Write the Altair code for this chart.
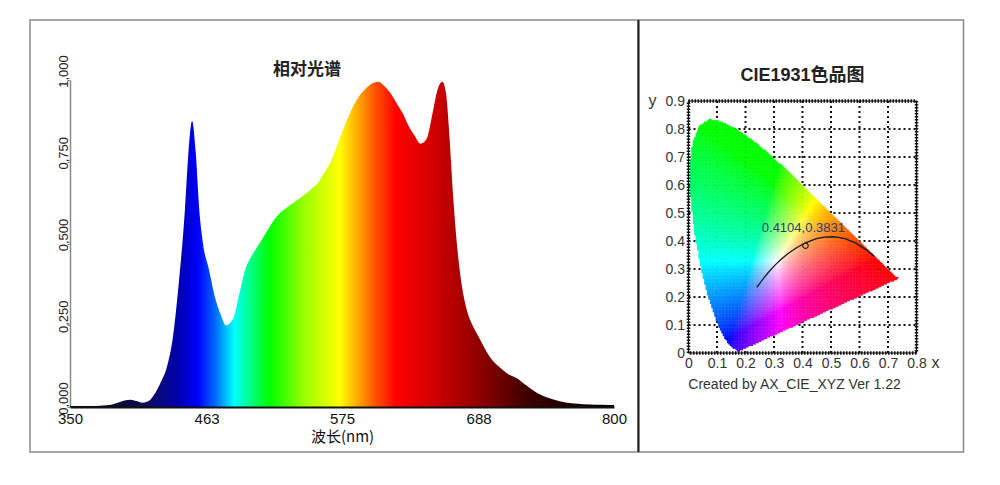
import altair as alt
import numpy as np
import pandas as pd

# ---------------- data: relative spectrum ----------------
wavelength = [350, 360, 370, 380, 385, 390, 395, 400, 405, 410, 415, 420, 425, 430, 435,
              440, 445, 448, 451, 454, 457, 460, 465, 470, 475, 479, 485, 490, 495, 500,
              505, 510, 515, 520, 525, 530, 535, 540, 545, 550, 555, 560, 565, 570, 575,
              580, 585, 590, 595, 600, 605, 610, 615, 620, 625, 630, 635, 640, 645, 650,
              654, 658, 661, 664, 667, 670, 673, 678, 683, 688, 693, 698, 705, 712, 720,
              727, 735, 742, 750, 760, 770, 780, 790, 800]
intensity = [0.003, 0.003, 0.003, 0.005, 0.008, 0.014, 0.020, 0.022, 0.018, 0.013, 0.018, 0.040, 0.075, 0.120, 0.210,
             0.380, 0.600, 0.780, 0.875, 0.780, 0.600, 0.500, 0.420, 0.335, 0.280, 0.250, 0.270, 0.345, 0.420, 0.460,
             0.490, 0.520, 0.550, 0.578, 0.598, 0.612, 0.625, 0.638, 0.652, 0.668, 0.685, 0.715, 0.745, 0.790, 0.840,
             0.885, 0.925, 0.955, 0.975, 0.990, 0.995, 0.982, 0.960, 0.930, 0.900, 0.860, 0.830, 0.805, 0.820, 0.900,
             0.970, 0.995, 0.960, 0.820, 0.640, 0.500, 0.400, 0.300, 0.250, 0.215, 0.180, 0.150, 0.123, 0.102, 0.087,
             0.067, 0.046, 0.033, 0.023, 0.014, 0.010, 0.008, 0.007, 0.006]
spec_x_ticks = [350, 463, 575, 688, 800]
spec_y_ticks = [0.0, 0.25, 0.5, 0.75, 1.0]
spec_title = "相对光谱"
spec_x_title = "波长(nm)"

# ---------------- data: CIE 1931 ----------------
locus_x = [0.1741, 0.1740, 0.1738, 0.1736, 0.1733, 0.1730, 0.1726, 0.1721, 0.1714, 0.1703,
           0.1689, 0.1669, 0.1644, 0.1611, 0.1566, 0.1510, 0.1440, 0.1355, 0.1241, 0.1096,
           0.0913, 0.0687, 0.0454, 0.0235, 0.0082, 0.0039, 0.0139, 0.0389, 0.0743, 0.1142,
           0.1547, 0.1929, 0.2296, 0.2658, 0.3016, 0.3373, 0.3731, 0.4087, 0.4441, 0.4788,
           0.5125, 0.5448, 0.5752, 0.6029, 0.6270, 0.6482, 0.6658, 0.6801, 0.6915, 0.7006,
           0.7079, 0.7140, 0.7190, 0.7230, 0.7260, 0.7283, 0.7300, 0.7311, 0.7320, 0.7334,
           0.7344, 0.7347]
locus_y = [0.0050, 0.0050, 0.0049, 0.0049, 0.0048, 0.0048, 0.0048, 0.0048, 0.0051, 0.0058,
           0.0069, 0.0086, 0.0109, 0.0138, 0.0177, 0.0227, 0.0297, 0.0399, 0.0578, 0.0868,
           0.1327, 0.2007, 0.2950, 0.4127, 0.5384, 0.6548, 0.7502, 0.8120, 0.8338, 0.8262,
           0.8059, 0.7816, 0.7543, 0.7243, 0.6923, 0.6589, 0.6245, 0.5896, 0.5547, 0.5202,
           0.4866, 0.4544, 0.4242, 0.3965, 0.3725, 0.3514, 0.3340, 0.3197, 0.3083, 0.2993,
           0.2920, 0.2859, 0.2809, 0.2770, 0.2740, 0.2717, 0.2700, 0.2689, 0.2680, 0.2666,
           0.2656, 0.2653]
planck_x = [0.2399, 0.2501, 0.2565, 0.2637, 0.2807, 0.2952, 0.3064, 0.3221, 0.3451, 0.3608,
            0.3805, 0.4053, 0.4369, 0.4527, 0.4770, 0.5056, 0.5267, 0.5494, 0.5857, 0.6251, 0.6528]
planck_y = [0.2348, 0.2489, 0.2577, 0.2674, 0.2884, 0.3048, 0.3166, 0.3318, 0.3516, 0.3636,
            0.3768, 0.3907, 0.4041, 0.4096, 0.4137, 0.4152, 0.4133, 0.4081, 0.3931, 0.3674, 0.3444]
point_x = [0.4104]
point_y = [0.3831]
point_label = "0.4104,0.3831"
cie_x_ticks = [0, 0.1, 0.2, 0.3, 0.4, 0.5, 0.6, 0.7, 0.8]
cie_y_ticks = [0, 0.1, 0.2, 0.3, 0.4, 0.5, 0.6, 0.7, 0.8, 0.9]
cie_title = "CIE1931色品图"
credit = "Created by AX_CIE_XYZ Ver 1.22"

FONT = "Liberation Sans, Arial, Noto Sans CJK SC"
CJK = "Noto Sans CJK SC, Liberation Sans"

# ---------------- left panel ----------------
stop_wl = [350, 385, 415, 440, 456, 470, 486, 497, 515, 545, 573, 588, 603, 620, 650, 690, 730, 770, 800]
stop_col = ["#000000", "#0a0a28", "#0c0c60", "#0000b0", "#0000ff", "#0068ff", "#00ffff", "#00ff99",
            "#00ff00", "#a0ff00", "#ffff00", "#ffaa00", "#ff5000", "#ff0000", "#d20000", "#8c0000",
            "#3c0000", "#120000", "#000000"]
grad = alt.LinearGradient(
    gradient="linear",
    stops=[alt.GradientStop(color=c, offset=(w - 350) / 450.0) for w, c in zip(stop_wl, stop_col)],
    x1=0, x2=1, y1=0, y2=0,
)

spec_df = pd.DataFrame({"wl": wavelength, "v": intensity})
xs = alt.Scale(domain=[350, 800], nice=False, zero=False)
ys = alt.Scale(domain=[0, 1], nice=False)
ax_lx = alt.Axis(
    values=spec_x_ticks, title=spec_x_title, labelFlush=False, grid=False, ticks=False,
    domainColor="#111", domainWidth=2, labelFont=FONT, labelFontSize=15, labelColor="#111",
    labelPadding=4, titleFont=CJK, titleFontSize=15, titleFontWeight="normal",
    titleColor="#111", titlePadding=3, zindex=1)
ax_ly = alt.Axis(
    values=spec_y_ticks, labelExpr="replace(format(datum.value, '.3f'), '.', ',')",
    labelAngle=270, labelAlign="center", labelBaseline="alphabetic", labelOffset=-9,
    labelPadding=0, labelFlush=False, tickSize=3, tickColor="#888", domainColor="#888",
    domainWidth=1.5, grid=False, title=None, labelFont=FONT, labelFontSize=13,
    labelColor="#222")

area = alt.Chart(spec_df).mark_area(color=grad, interpolate="monotone").encode(
    x=alt.X("wl:Q", scale=xs, axis=ax_lx),
    y=alt.Y("v:Q", scale=ys, axis=ax_ly),
)

title_l = alt.Chart(pd.DataFrame({"wl": [546], "v": [1.03], "t": [spec_title]})).mark_text(
    font=CJK, fontSize=17, fontWeight="bold", color="#222", baseline="middle", align="center"
).encode(x=alt.X("wl:Q", scale=xs, axis=ax_lx), y=alt.Y("v:Q", scale=ys, axis=ax_ly), text="t:N")

one = pd.DataFrame({"k": [0]})
frame_l = alt.Chart(one).mark_rect(filled=False, stroke="#8a8a8a", strokeWidth=1.5).encode(
    x=alt.value(-40), x2=alt.value(568), y=alt.value(-60), y2=alt.value(372))

left = alt.layer(area, title_l, frame_l).properties(width=544, height=327)

# ---------------- right panel ----------------
lx = np.array(locus_x)
ly = np.array(locus_y)
step = 0.005
gx, gy = np.meshgrid(np.arange(0, 0.75, step), np.arange(0, 0.845, step))
cx = gx + step / 2
cy = gy + step / 2
inside = np.zeros(cx.shape, dtype=bool)
n = len(lx)
j = n - 1
with np.errstate(divide="ignore", invalid="ignore"):
    for i in range(n):
        xi, yi, xj, yj = lx[i], ly[i], lx[j], ly[j]
        cross = (yi > cy) != (yj > cy)
        xint = (xj - xi) * (cy - yi) / ((yj - yi) if yj != yi else 1e-12) + xi
        inside ^= cross & (cx < xint)
        j = i
px = cx[inside]
py = cy[inside]
X = px / py
Y = np.ones_like(px)
Z = (1 - px - py) / py
r = 3.2406 * X - 1.5372 * Y - 0.4986 * Z
g = -0.9689 * X + 1.8758 * Y + 0.0415 * Z
b = 0.0557 * X - 0.2040 * Y + 1.0570 * Z
rgb = np.clip(np.stack([r, g, b], axis=1), 0, None)
rgb = rgb / rgb.max(axis=1, keepdims=True)
rgb = np.power(rgb, 1 / 1.5)
rgb = np.clip(np.round(rgb * 255), 0, 255).astype(int)
cols = ["#%02x%02x%02x" % tuple(c) for c in rgb]
gamut_df = pd.DataFrame({"x": np.round(gx[inside], 4), "y": np.round(gy[inside], 4), "c": cols})

cxs = alt.Scale(domain=[0, 0.8], nice=False, zero=False)
cys = alt.Scale(domain=[0, 0.975], nice=False, zero=False)
ax_rx = alt.Axis(
    values=cie_x_ticks, format=".1~f", title=None, labelFlush=False, labelOverlap=False,
    domain=False, ticks=False, grid=False, labelFont=FONT, labelFontSize=14,
    labelColor="#333", labelPadding=3)
ax_ry = alt.Axis(
    values=cie_y_ticks, format=".1~f", title=None, labelFlush=False, labelOverlap=False,
    domain=False, ticks=False, grid=False, labelFont=FONT, labelFontSize=14,
    labelColor="#333", labelPadding=4)

def X_(f):
    return alt.X(f, scale=cxs, axis=ax_rx)

def Y_(f):
    return alt.Y(f, scale=cys, axis=ax_ry)

gamut = alt.Chart(gamut_df).transform_calculate(
    x2="datum.x + 0.0064", y2="datum.y + 0.0064"
).mark_rect(strokeWidth=0).encode(
    x=X_("x:Q"), x2="x2:Q", y=Y_("y:Q"), y2="y2:Q",
    color=alt.Color("c:N", scale=None),
)

grid_v = alt.Chart(pd.DataFrame({"x": cie_x_ticks[1:-1]})).transform_calculate(
    y="0", y2="0.9").mark_rule(color="#111", strokeWidth=2, strokeDash=[2, 3]).encode(
    x=X_("x:Q"), y=Y_("y:Q"), y2="y2:Q")
grid_h = alt.Chart(pd.DataFrame({"y": cie_y_ticks[1:-1]})).transform_calculate(
    x="0", x2="0.8").mark_rule(color="#111", strokeWidth=2, strokeDash=[2, 3]).encode(
    y=Y_("y:Q"), x=X_("x:Q"), x2="x2:Q")

box_df = pd.DataFrame({"x": [0.0], "x2": [0.8], "y": [0.0], "y2": [0.9]})
box1 = alt.Chart(box_df).mark_rect(filled=False, stroke="#111", strokeWidth=1.2).encode(
    x=X_("x:Q"), x2="x2:Q", y=Y_("y:Q"), y2="y2:Q")
box2 = alt.Chart(box_df).mark_rect(filled=False, stroke="#111", strokeWidth=3.5,
                                   strokeDash=[1.5, 1.5]).encode(
    x=X_("x:Q"), x2="x2:Q", y=Y_("y:Q"), y2="y2:Q")

planck = alt.Chart(pd.DataFrame({"x": planck_x, "y": planck_y, "i": list(range(len(planck_x)))})).mark_line(
    color="#1a1a1a", strokeWidth=1.3).encode(x=X_("x:Q"), y=Y_("y:Q"), order="i:Q")

pt = alt.Chart(pd.DataFrame({"x": point_x, "y": point_y})).mark_point(
    shape="circle", filled=False, size=30, color="#222", strokeWidth=1.2, opacity=1).encode(
    x=X_("x:Q"), y=Y_("y:Q"))

def label(xv, yv, txt, **kw):
    return alt.Chart(pd.DataFrame({"x": [xv], "y": [yv], "t": [txt]})).mark_text(
        baseline="middle", align="center", **kw).encode(x=X_("x:Q"), y=Y_("y:Q"), text="t:N")

pt_lab = label(0.403, 0.446, point_label, font=FONT, fontSize=13, color="#1e3f6e")
t_title = label(0.40, 0.989, cie_title, font=FONT, fontSize=18, fontWeight="bold", color="#222")
t_y = label(-0.126, 0.9, "y", font=FONT, fontSize=16, color="#333")
t_x = label(0.867, -0.036, "x", font=FONT, fontSize=16, color="#333")
t_credit = label(0.372, -0.114, credit, font=FONT, fontSize=14, color="#333")

frame_r = alt.Chart(one).mark_rect(filled=False, stroke="#8a8a8a", strokeWidth=1.5).encode(
    x=alt.value(-50), x2=alt.value(275), y=alt.value(-60), y2=alt.value(372))
divider = alt.Chart(one).mark_rule(stroke="#222", strokeWidth=2).encode(
    x=alt.value(-50), y=alt.value(-60), y2=alt.value(372))

right = alt.layer(grid_v, grid_h, gamut, box1, box2, planck, pt, pt_lab, t_title, t_y, t_x,
                  t_credit, frame_r, divider).properties(width=228, height=273)

chart = alt.hconcat(left, right, spacing=-1.5).properties(
    padding={"left": 29, "top": 19, "right": 0, "bottom": 0}, background="white"
).configure_view(strokeWidth=0)

chart.save("out.html", embed_options={"renderer": "svg", "actions": False})
